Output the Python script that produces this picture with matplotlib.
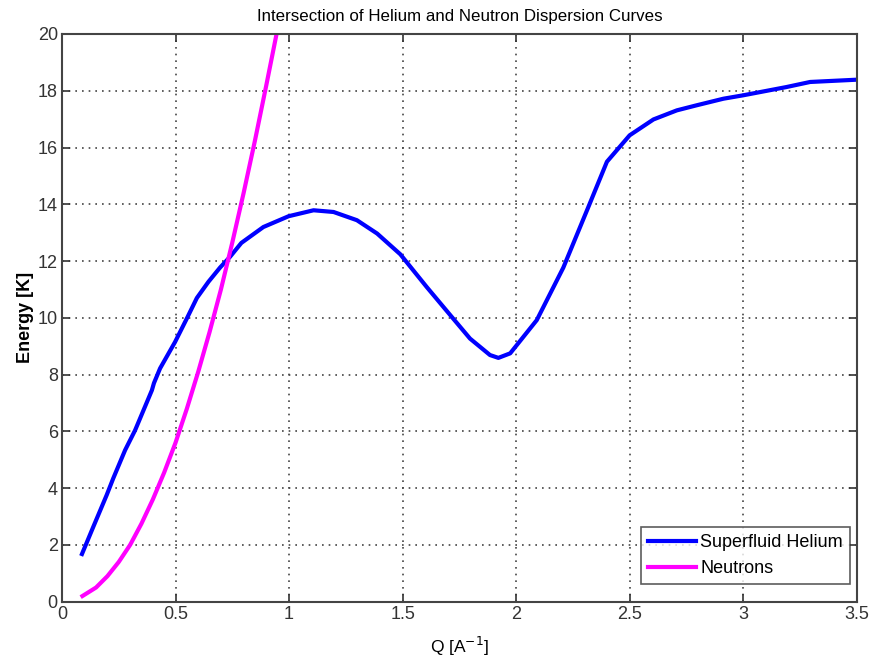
import matplotlib
matplotlib.use("Agg")
import matplotlib.pyplot as plt

plt.rcParams['font.family'] = ['Liberation Sans', 'DejaVu Sans']

# Superfluid helium dispersion
he_q = [0.088, 0.138, 0.197, 0.226, 0.278, 0.322, 0.396, 0.405, 0.432, 0.498, 0.55,
        0.594, 0.645, 0.696, 0.74, 0.79, 0.887, 0.998, 1.108, 1.196, 1.299, 1.388,
        1.49, 1.606, 1.716, 1.797, 1.885, 1.922, 1.974, 2.091, 2.208, 2.318, 2.40,
        2.50, 2.605, 2.708, 2.796, 2.913, 3.00, 3.19, 3.295, 3.50]
he_e = [1.68, 2.64, 3.76, 4.35, 5.34, 6.04, 7.45, 7.7, 8.22, 9.15, 9.98,
        10.7, 11.27, 11.77, 12.15, 12.64, 13.2, 13.58, 13.79, 13.73, 13.44, 12.97,
        12.24, 11.09, 10.04, 9.27, 8.69, 8.59, 8.75, 9.92, 11.77, 13.9, 15.5,
        16.43, 16.99, 17.31, 17.49, 17.72, 17.84, 18.13, 18.31, 18.39]

# Neutron dispersion
n_q = [0.09, 0.15, 0.20, 0.25, 0.30, 0.35, 0.40, 0.45, 0.50, 0.55, 0.60, 0.65,
       0.70, 0.75, 0.80, 0.85, 0.90, 0.95]
n_e = [0.2, 0.5, 0.9, 1.4, 2.0, 2.75, 3.6, 4.55, 5.6, 6.8, 8.1, 9.5,
       11.0, 12.65, 14.4, 16.25, 18.2, 20.2]

xticks = [0, 0.5, 1, 1.5, 2, 2.5, 3, 3.5]
xticklabels = ['0', '0.5', '1', '1.5', '2', '2.5', '3', '3.5']
yticks = [0, 2, 4, 6, 8, 10, 12, 14, 16, 18, 20]

fig = plt.figure(figsize=(8.73, 6.64), dpi=100)
ax = fig.add_axes([0.0710, 0.0938, 0.9103, 0.855])

ax.plot(he_q, he_e, color='#0000ff', lw=3, label='Superfluid Helium')
ax.plot(n_q, n_e, color='#ff00ff', lw=3, label='Neutrons')

ax.set_xlim(0, 3.5)
ax.set_ylim(0, 20)
ax.set_xticks(xticks)
ax.set_xticklabels(xticklabels)
ax.set_yticks(yticks)
ax.tick_params(direction='in', length=6, width=1.2, labelsize=13, top=True, right=True,
               colors='#333333', pad=3)
ax.grid(True, color='#444444', linestyle=(0, (1, 3)), linewidth=1.2)
for s in ax.spines.values():
    s.set_linewidth(1.5)
    s.set_color('#444444')

ax.set_title('Intersection of Helium and Neutron Dispersion Curves', fontsize=12.2, pad=9)
ax.set_xlabel('Q [A$^{-1}$]', fontsize=12.5, labelpad=9)
ax.set_ylabel('Energy [K]', fontsize=13, fontweight='bold', labelpad=3)

leg = ax.legend(loc='lower right', bbox_to_anchor=(0.992, 0.031), fontsize=13,
                frameon=True, fancybox=False, handlelength=2.65, borderaxespad=0,
                handletextpad=0.25, labelspacing=0.5, borderpad=0.4)
leg.get_frame().set_edgecolor('#333333')
leg.get_frame().set_linewidth(1.2)

fig.savefig('out.png', dpi=100)
